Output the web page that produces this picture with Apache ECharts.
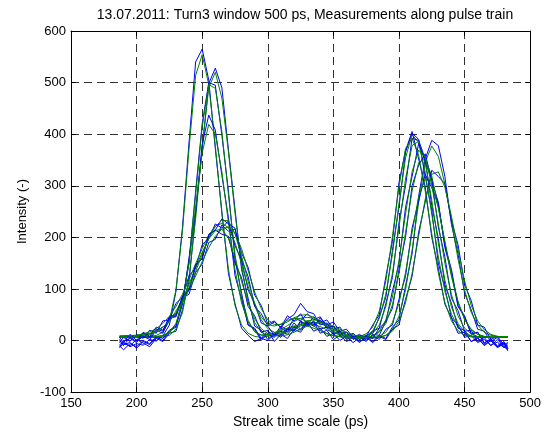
<!DOCTYPE html>
<html><head><meta charset="utf-8">
<script src="https://cdn.jsdelivr.net/npm/echarts@6/dist/echarts.min.js"></script>
<style>html,body{margin:0;padding:0;background:#fff}#c{width:544px;height:434px}</style>
</head><body><div id="c"></div>
<script>
const titleText = '13.07.2011: Turn3 window 500 ps, Measurements along pulse train';
const xName = 'Streak time scale (ps)';
const yName = 'Intensity (-)';
const xTicks = [150, 200, 250, 300, 350, 400, 450, 500];
const yTicks = [-100, 0, 100, 200, 300, 400, 500, 600];

const xs = [187,190,195,200,205,210,215,220,225,230,235,240,245,250,255,260,265,270,275,280,285,290,295,300,305,310,315,320,325,330,335,340,345,350,355,360,365,370,375,380,385,390,395,400,405,410,415,420,425,430,435,440,445,450,455,460,465,470,475,480,483];

// measured profiles (blue)
const blueA = [-8,-3,-12,-6,-9,2,-1,9,30,95, 220,385,540,565,505,372,250,130,72,24, 10,-2,4,0,12,9,24,20,36,28, 38,22,26,12,16,4,8,2,10,14, 46,84,175,258,365,402,390,318,252,150, 102,44,30,6,10,-4,2,-9,-3,-14, -10];
const blueB = [-14,-6,-10,2,-5,-12,4,-2,14,18, 60,115,248,370,498,528,490,370,255,138, 82,28,20,2,14,6,22,18,38,30, 46,34,40,22,26,8,14,2,8,-2, 10,4,26,40,106,168,280,352,388,378, 318,225,168,92,60,22,18,-2,6,-12, -18];
const blueC = [2,-8,-4,-15,-2,-8,6,0,18,26, 80,150,290,420,500,495,398,290,158,92, 30,22,0,14,6,24,16,34,22,36, 18,24,8,14,0,8,-4,6,2,18, 24,72,122,228,300,392,388,352,262,198, 108,72,24,20,-2,4,-8,0,-12,-6, -16];
const blueD = [-10,-18,-6,-12,0,-6,8,4,20,28, 70,160,250,380,437,408,320,238,126,80, 30,24,4,18,10,28,20,44,38,52, 40,46,24,28,10,16,2,8,-2,12, 10,38,62,138,200,300,340,362,310,268, 180,132,66,46,14,16,-4,2,-10,-2, -14];
const blueE = [-4,6,-2,12,4,20,14,38,40,72, 84,126,140,186,198,226,218,232,184,156, 98,72,34,28,10,18,12,26,20,38, 30,40,24,28,12,16,4,10,8,30, 50,124,192,306,368,405,352,298,200,140, 70,44,14,16,-2,6,-10,0,-14,-6, -20];
const blueF = [-12,-2,4,-4,14,6,22,18,44,46, 82,90,132,148,190,196,224,212,216,170, 142,88,68,32,38,24,42,50,72,56, 52,30,34,14,18,2,8,-2,6,-4, 8,2,22,30,80,124,210,268,330,318, 304,232,186,108,78,30,26,2,8,-8, -4];
const blueG = [0,-10,6,-2,8,2,20,14,42,48, 86,98,148,158,206,214,206,202,150,122, 66,48,16,20,-2,12,4,22,16,34, 28,44,30,36,18,22,6,12,0,10, 2,22,30,80,124,218,270,322,296,266, 184,138,68,48,12,16,-6,4,-12,-4, -16];
const blueH = [6,-4,12,0,16,8,26,20,46,50, 84,98,144,160,204,214,236,226,218,158, 124,66,52,28,36,26,48,38,52,30, 36,14,20,2,10,-2,6,-4,8,4, 24,36,96,148,258,318,382,348,312,220, 162,82,58,18,20,-2,6,-10,2,-12, -6];

// fitted profiles (green)
const greenA = [8,8,8,8,8,8,10,16,38,98, 213,373,514,554,496,378,246,138,68,30, 14,8,6,8,11,15,21,27,31,33, 31,27,21,15,11,8,6,6,9,19, 43,90,167,265,354,399,384,326,245,162, 96,51,26,13,8,7,7,7,7,7, 7];
const greenB = [6,6,6,6,6,6,6,7,10,22, 54,122,236,376,490,520,470,366,248,145, 75,35,16,10,9,12,18,25,32,38, 40,38,32,25,18,12,9,7,5,5, 6,10,21,47,98,175,268,346,377,357, 303,231,158,98,55,30,16,10,8,7, 7];
const greenC = [7,7,7,7,7,7,7,9,14,32, 74,158,282,414,496,489,405,283,168,85, 39,17,10,11,14,19,24,28,30,28, 24,19,14,10,8,6,5,5,8,14, 30,66,130,219,313,378,386,345,272,189, 117,65,33,17,9,7,6,6,6,6, 6];
const greenD = [8,8,8,8,8,8,8,10,16,33, 75,151,258,364,419,400,327,229,138,73, 36,17,11,11,15,21,29,37,43,45, 43,37,29,21,15,10,8,6,6,9, 16,33,69,129,209,290,345,352,319,259, 189,124,74,41,22,12,8,6,6,6, 6];
const greenE = [8,9,9,10,13,17,23,33,47,66, 90,118,149,178,204,222,227,219,190,149, 105,67,40,23,16,14,17,22,28,33, 35,33,28,22,16,11,8,8,13,26, 57,116,201,298,372,392,359,290,207,131, 74,38,19,10,7,6,6,6,6,6, 6];
const greenF = [6,7,7,8,10,13,18,26,38,53, 74,98,125,153,180,202,216,220,208,178, 136,94,62,40,31,31,36,44,49,50, 45,36,27,18,12,8,6,5,5,5, 6,10,18,37,73,130,202,274,322,327, 297,241,176,116,69,38,21,12,8,7, 7];
const greenG = [7,7,8,8,10,12,17,26,38,57, 80,109,141,171,197,213,216,198,160,115, 74,42,23,13,9,9,11,16,22,28, 33,35,33,28,22,16,11,8,6,6, 8,16,35,72,132,209,279,314,303,257, 193,128,76,41,21,12,8,6,6,6, 6];
const greenH = [9,9,10,10,12,14,18,26,37,53, 75,103,134,167,197,221,233,232,207,164, 115,72,45,31,28,32,39,43,42,37, 28,20,13,9,7,5,5,5,6,9, 18,40,84,155,245,327,369,355,302,226, 150,89,48,24,13,8,7,7,7,7, 7];

const measured = [blueA, blueB, blueC, blueD, blueE, blueF, blueG, blueH];
const fitted = [greenA, greenB, greenC, greenD, greenE, greenF, greenG, greenH];

const FONT = '"Liberation Sans", Arial, sans-serif';
const series = [];
measured.forEach((arr, i) => {
  series.push({type: 'line', data: xs.map((x, j) => [x, arr[j]]), symbol: 'none', silent: true,
    lineStyle: {color: '#0000ff', width: 1}, z: 2});
  series.push({type: 'line', data: xs.map((x, j) => [x, fitted[i][j]]), symbol: 'none', silent: true,
    lineStyle: {color: '#008000', width: 1}, z: 2});
});

const dashed = {show: true, lineStyle: {color: '#333', width: 1, type: [8, 5]}};
const xBase = {type: 'value', min: xTicks[0], max: xTicks[xTicks.length - 1], interval: 50};
const yBase = {type: 'value', min: yTicks[0], max: yTicks[yTicks.length - 1], interval: 100};

const chart = echarts.init(document.getElementById('c'), null, {renderer: 'canvas'});
chart.setOption({
  animation: false,
  backgroundColor: '#fff',
  title: {text: titleText, left: 305, top: 8, textAlign: 'center', padding: 0,
    textStyle: {fontSize: 14, fontWeight: 'normal', color: '#000', fontFamily: FONT}},
  grid: {left: 71, right: 4, top: 31, bottom: 39, containLabel: false},
  xAxis: [
    Object.assign({}, xBase, {position: 'bottom', name: xName, nameLocation: 'middle', nameGap: 22,
      nameTextStyle: {fontSize: 14, color: '#000', fontFamily: FONT},
      axisLine: {show: true, onZero: false, lineStyle: {color: '#000', width: 1}},
      axisTick: {show: true, inside: true, length: 5, lineStyle: {color: '#000'}},
      axisLabel: {show: true, color: '#000', fontSize: 13, fontFamily: FONT, margin: 5, showMaxLabel: true, showMinLabel: true},
      splitLine: dashed}),
    Object.assign({}, xBase, {position: 'top',
      axisLine: {show: true, onZero: false, lineStyle: {color: '#000', width: 1}},
      axisTick: {show: true, inside: true, length: 5, lineStyle: {color: '#000'}},
      axisLabel: {show: false}, splitLine: {show: false}})
  ],
  yAxis: [
    Object.assign({}, yBase, {position: 'left', name: yName, nameLocation: 'middle', nameGap: 42, nameRotate: 90,
      nameTextStyle: {fontSize: 13, color: '#000', fontFamily: FONT},
      axisLine: {show: true, onZero: false, lineStyle: {color: '#000', width: 1}},
      axisTick: {show: true, inside: true, length: 5, lineStyle: {color: '#000'}},
      axisLabel: {show: true, color: '#000', fontSize: 13, fontFamily: FONT, margin: 5, showMaxLabel: true, showMinLabel: true},
      splitLine: dashed}),
    Object.assign({}, yBase, {position: 'right',
      axisLine: {show: true, onZero: false, lineStyle: {color: '#000', width: 1}},
      axisTick: {show: true, inside: true, length: 5, lineStyle: {color: '#000'}},
      axisLabel: {show: false}, splitLine: {show: false}})
  ],
  series: series
});
</script></body></html>
